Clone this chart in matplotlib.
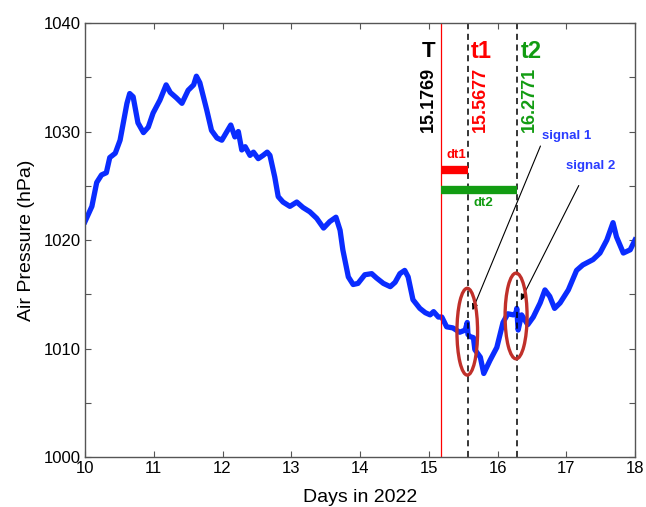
import matplotlib
matplotlib.use("Agg")
import matplotlib.pyplot as plt
from matplotlib.patches import Ellipse

# air pressure trace
days = [10.00, 10.10, 10.17, 10.24, 10.31, 10.36, 10.44, 10.51, 10.61, 10.65,
        10.70, 10.77, 10.85, 10.92, 10.99, 11.09, 11.18, 11.24, 11.33, 11.41,
        11.50, 11.58, 11.62, 11.67, 11.77, 11.84, 11.92, 11.99, 12.12, 12.18,
        12.23, 12.28, 12.33, 12.40, 12.45, 12.52, 12.59, 12.65, 12.69, 12.76,
        12.81, 12.88, 12.98, 13.08, 13.17, 13.27, 13.37, 13.47, 13.56, 13.65,
        13.71, 13.75, 13.83, 13.90, 13.97, 14.07, 14.17, 14.24, 14.34, 14.44,
        14.51, 14.58, 14.65, 14.70, 14.77, 14.87, 14.95, 15.02, 15.07, 15.14,
        15.19, 15.26, 15.35, 15.45, 15.53, 15.56, 15.57, 15.60, 15.65, 15.67,
        15.75, 15.80, 15.89, 15.99, 16.08, 16.15, 16.23, 16.27, 16.28, 16.30,
        16.35, 16.44, 16.52, 16.62, 16.69, 16.76, 16.83, 16.91, 17.03, 17.15,
        17.24, 17.39, 17.49, 17.59, 17.68, 17.73, 17.83, 17.93, 18.00]
pressure = [1021.7, 1023.1, 1025.3, 1026.0, 1026.2, 1027.6, 1028.0, 1029.2, 1032.6, 1033.5,
            1033.2, 1030.8, 1029.9, 1030.4, 1031.7, 1032.9, 1034.3, 1033.6, 1033.1, 1032.6,
            1033.8, 1034.3, 1035.1, 1034.5, 1032.0, 1030.1, 1029.4, 1029.2, 1030.6, 1029.5,
            1030.0, 1028.3, 1028.6, 1027.8, 1028.1, 1027.5, 1027.8, 1028.1, 1027.8, 1025.8,
            1024.0, 1023.5, 1023.1, 1023.5, 1023.0, 1022.6, 1022.0, 1021.1, 1021.7, 1022.1,
            1020.9, 1019.1, 1016.6, 1015.9, 1016.0, 1016.8, 1016.9, 1016.5, 1016.0, 1015.7,
            1016.1, 1016.9, 1017.2, 1016.6, 1014.5, 1013.7, 1013.3, 1013.1, 1013.4, 1012.9,
            1012.9, 1012.0, 1011.9, 1011.5, 1011.7, 1012.4, 1011.3, 1011.1, 1011.0, 1009.9,
            1009.2, 1007.7, 1008.9, 1010.1, 1012.4, 1013.2, 1013.1, 1013.3, 1013.7, 1011.7,
            1013.1, 1012.2, 1012.9, 1014.2, 1015.4, 1014.8, 1013.7, 1014.2, 1015.4, 1017.2,
            1017.7, 1018.2, 1018.8, 1020.0, 1021.6, 1020.3, 1018.8, 1019.1, 1020.0]

T0, t1, t2 = 15.1769, 15.5677, 16.2771
marker_labels = ["15.1769", "15.5677", "16.2771"]

green = "#129c12"
plt.rcParams["font.family"] = ["Liberation Sans", "DejaVu Sans"]

fig = plt.figure(figsize=(6.46, 5.07), dpi=100)
ax = fig.add_axes([0.1316, 0.0986, 0.8514, 0.856])

ax.plot(days, pressure, color="#0a2cff", linewidth=3.8, solid_joinstyle="round")

ax.axvline(T0, color="red", linewidth=0.9)
ax.axvline(t1, color="black", linestyle=(0, (4, 3)), linewidth=1.1)
ax.axvline(t2, color="black", linestyle=(0, (4, 3)), linewidth=1.1)

# time labels
ax.text(15.0, 1037.4, "T", color="black", fontsize=16, fontweight="bold", ha="center", va="center")
ax.text(15.77, 1037.4, "t1", color="red", fontsize=17, fontweight="bold", ha="center", va="center")
ax.text(16.49, 1037.4, "t2", color=green, fontsize=17, fontweight="bold", ha="center", va="center")
ax.text(15.0, 1036.0, marker_labels[0], color="black", fontsize=13, fontweight="bold",
        rotation=90, ha="center", va="top")
ax.text(15.75, 1036.0, marker_labels[1], color="red", fontsize=13, fontweight="bold",
        rotation=90, ha="center", va="top")
ax.text(16.465, 1036.0, marker_labels[2], color=green, fontsize=13, fontweight="bold",
        rotation=90, ha="center", va="top")

# delay bars
ax.plot([T0, t1], [1026.45, 1026.45], color="red", linewidth=6, solid_capstyle="butt")
ax.plot([T0, t2], [1024.6, 1024.6], color=green, linewidth=6, solid_capstyle="butt")
ax.text(15.40, 1027.8, "dt1", color="red", fontsize=9.5, fontweight="bold", ha="center", va="center")
ax.text(15.80, 1023.4, "dt2", color=green, fontsize=9.5, fontweight="bold", ha="center", va="center")

# signal ellipses
for cx, cy, w, h in [(15.56, 1011.55, 0.30, 8.0), (16.27, 1013.0, 0.32, 7.9)]:
    ax.add_patch(Ellipse((cx, cy), w, h, fill=False, edgecolor="#c0302a", linewidth=2.4, zorder=4))

# signal annotations
ax.annotate("", xy=(15.62, 1013.3), xytext=(16.64, 1028.9),
            arrowprops=dict(arrowstyle="-|>", color="black", lw=0.8, mutation_scale=9))
ax.annotate("", xy=(16.32, 1014.2), xytext=(17.2, 1025.25),
            arrowprops=dict(arrowstyle="-|>", color="black", lw=0.8, mutation_scale=9))
ax.text(17.0, 1029.6, "signal 1", color="#2a3cff", fontsize=9.5, fontweight="bold", ha="center", va="center")
ax.text(17.35, 1026.8, "signal 2", color="#2a3cff", fontsize=9.5, fontweight="bold", ha="center", va="center")

ax.set_xlim(10, 18)
ax.set_ylim(1000, 1040)
ax.set_xticks(range(10, 19))
ax.set_yticks(range(1000, 1041, 5))
ax.set_yticklabels([str(v) if v % 10 == 0 else "" for v in range(1000, 1041, 5)])
ax.tick_params(direction="in", top=True, right=True, length=4, width=0.8,
               colors="#555555", labelcolor="black", labelsize=12, pad=3)
for sp in ax.spines.values():
    sp.set_color("#555555")
    sp.set_linewidth(1.0)

ax.set_xlabel("Days in 2022", fontsize=14, labelpad=9)
ax.set_ylabel("Air Pressure (hPa)", fontsize=14, labelpad=6)

fig.savefig("out.png", dpi=100)
